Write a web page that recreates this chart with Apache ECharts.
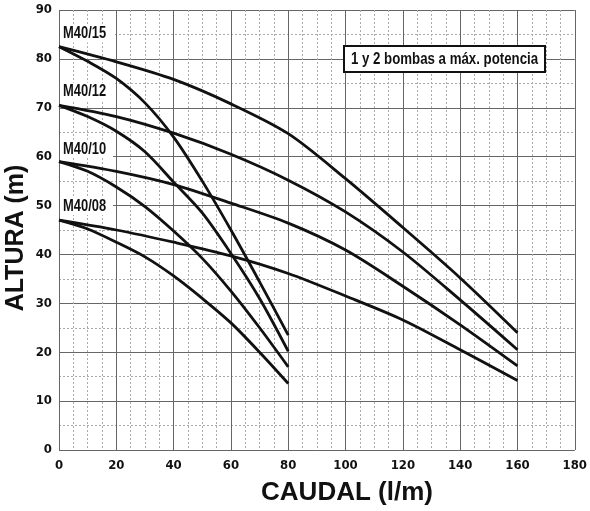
<!DOCTYPE html>
<html>
<head>
<meta charset="utf-8">
<script src="https://cdn.jsdelivr.net/npm/echarts@6/dist/echarts.min.js"></script>
<style>html,body{margin:0;padding:0;background:#fff}#c{width:590px;height:511px}</style>
</head>
<body>
<div id="c"></div>
<script>
// Caudal (l/m)
const qSingle = [0, 10, 20, 30, 40, 50, 60, 70, 80];
const qDouble = [0, 20, 40, 60, 80, 100, 120, 140, 160];
// Altura (m) – 1 bomba
const h15Single = [82.5, 79.5, 76, 71, 64, 55, 45, 34.4, 23.5];
const h12Single = [70.5, 68.2, 65.2, 61, 54.8, 48.5, 40.2, 31, 20.2];
const h10Single = [59, 57, 53.8, 49.8, 44.8, 39.2, 32.5, 25, 17];
const h08Single = [47, 45.2, 42.5, 39.5, 35.6, 31, 26, 20, 13.6];
// Altura (m) – 2 bombas
const h15Double = [82.5, 79.4, 75.8, 70.8, 64.7, 55.5, 45.5, 35.2, 24];
const h12Double = [70.5, 68.2, 64.8, 60.5, 55.2, 48.7, 40.5, 30.7, 20.5];
const h10Double = [59, 57, 54.3, 50.5, 46.4, 40.9, 33.5, 25.6, 17.2];
const h08Double = [47, 45, 42.5, 39.7, 36.1, 31.5, 26.6, 20.5, 14.2];
const modelNames = ['M40/15', 'M40/12', 'M40/10', 'M40/08'];
const labelPos = [[0, 85.2], [0, 73.3], [0, 61.6], [0, 49.9]];
const xTicks = { min: 0, max: 180, interval: 20 };
const yTicks = { min: 0, max: 90, interval: 10 };
const boxText = '1 y 2 bombas a máx. potencia';
const xName = 'CAUDAL (l/m)';
const yName = 'ALTURA (m)';

const condensed = '"DejaVu Sans Condensed", "Liberation Sans Narrow", sans-serif';
const helv = '"Liberation Sans", Arial, sans-serif';
const pair = (xs, ys) => xs.map((x, i) => [x, ys[i]]);
const curves = [
  pair(qSingle, h15Single), pair(qSingle, h12Single), pair(qSingle, h10Single), pair(qSingle, h08Single),
  pair(qDouble, h15Double), pair(qDouble, h12Double), pair(qDouble, h10Double), pair(qDouble, h08Double)
];

const chart = echarts.init(document.getElementById('c'));
const series = curves.map(d => ({
  type: 'line', data: d, smooth: 0.3, symbol: 'none', silent: true,
  lineStyle: { color: '#111', width: 2.8 }, z: 3
}));

chart.setOption({
  animation: false,
  backgroundColor: '#fff',
  grid: { left: 59, right: 11, top: 10, bottom: 61 },
  xAxis: {
    type: 'value', min: xTicks.min, max: xTicks.max, interval: xTicks.interval,
    axisLine: { show: false }, axisTick: { show: false },
    minorTick: { show: false, splitNumber: 4 },
    splitLine: { show: true, lineStyle: { color: '#666', width: 1 } },
    minorSplitLine: { show: true, lineStyle: { color: '#aaa', width: 1, type: [2, 2] } },
    axisLabel: { margin: 9, color: '#111', fontFamily: condensed, fontWeight: 'bold', fontSize: 13 }
  },
  yAxis: {
    type: 'value', min: yTicks.min, max: yTicks.max, interval: yTicks.interval,
    axisLine: { show: false }, axisTick: { show: false },
    minorTick: { show: false, splitNumber: 2 },
    splitLine: { show: true, lineStyle: { color: '#666', width: 1 } },
    minorSplitLine: { show: true, lineStyle: { color: '#aaa', width: 1, type: [2, 2] } },
    axisLabel: { margin: 7, color: '#111', fontFamily: condensed, fontWeight: 'bold', fontSize: 13 }
  },
  series: series
});

const gfx = [
  { type: 'text', x: 16, y: 238, rotation: Math.PI / 2,
    style: { text: yName, textAlign: 'center', textVerticalAlign: 'middle',
      font: 'bold 25px ' + helv, fill: '#111' } },
  { type: 'text', x: 347, y: 493,
    style: { text: xName, textAlign: 'center', textVerticalAlign: 'middle',
      font: 'bold 26px ' + helv, fill: '#111' } },
  { type: 'rect', shape: { x: 344, y: 46, width: 201, height: 26 }, z: 10,
    style: { fill: '#fff', stroke: '#111', lineWidth: 2 } },
  { type: 'text', x: 444.5, y: 59.5, scaleX: 0.78, z: 11,
    style: { text: boxText, textAlign: 'center', textVerticalAlign: 'middle',
      font: 'bold 17px ' + helv, fill: '#111' } }
];
labelPos.forEach((p, i) => {
  const px = chart.convertToPixel({ gridIndex: 0 }, p);
  gfx.push({ type: 'text', x: px[0] + 1, y: px[1], scaleX: 0.76, z: 10,
    style: { text: modelNames[i], textAlign: 'left', textVerticalAlign: 'middle',
      font: 'bold 17px ' + helv, fill: '#111', backgroundColor: '#fff', padding: [1, 9, 0, 4] } });
});
chart.setOption({ graphic: gfx });
</script>
</body>
</html>
